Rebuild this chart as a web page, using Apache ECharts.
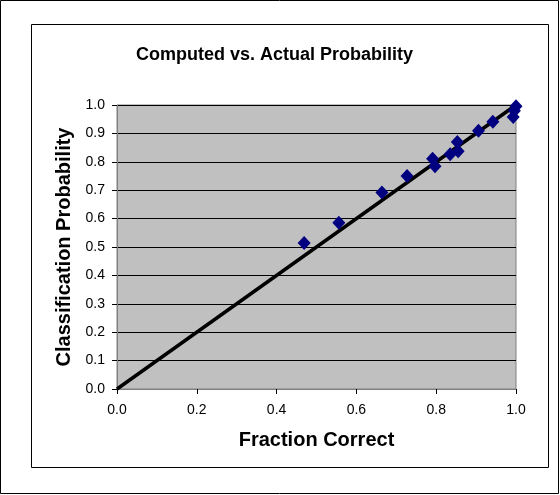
<!DOCTYPE html>
<html>
<head>
<meta charset="utf-8">
<script src="https://cdn.jsdelivr.net/npm/echarts@6/dist/echarts.min.js"></script>
<style>
html,body{margin:0;padding:0;background:#fff;}
#c{width:560px;height:495px;}
</style>
</head>
<body>
<div id="c"></div>
<script>
// Data
var fractionCorrect = [0.469, 0.556, 0.664, 0.727, 0.791, 0.797, 0.835, 0.853, 0.855, 0.906, 0.942, 0.993, 0.996, 1.0];
var classificationProb = [0.514, 0.585, 0.692, 0.750, 0.811, 0.784, 0.827, 0.870, 0.837, 0.909, 0.941, 0.958, 0.980, 0.996];
var lineX = [0, 1];
var lineY = [0, 1];

var chart = echarts.init(document.getElementById('c'), null, {renderer: 'canvas'});
var font = 'Liberation Sans, Arial, sans-serif';
var scatterData = fractionCorrect.map(function (x, i) { return [x, classificationProb[i]]; });
var lineData = lineX.map(function (x, i) { return [x, lineY[i]]; });

chart.setOption({
  animation: false,
  backgroundColor: '#fff',
  title: {
    text: 'Computed vs. Actual Probability',
    left: 131,
    top: 41,
    textStyle: {fontFamily: font, fontSize: 18, fontWeight: 'bold', color: '#000'}
  },
  graphic: [
    {type: 'rect', shape: {x: 0.5, y: 0.5, width: 558, height: 493}, style: {fill: 'none', stroke: '#000', lineWidth: 1}, silent: true},
    {type: 'rect', shape: {x: 31.5, y: 24.5, width: 517, height: 443}, style: {fill: 'none', stroke: '#000', lineWidth: 1}, silent: true}
  ],
  grid: {
    left: 117, right: 44, top: 105, bottom: 106,
    show: true, backgroundColor: '#C0C0C0', borderColor: '#808080', borderWidth: 1
  },
  xAxis: {
    type: 'value', min: 0, max: 1, interval: 0.2,
    name: 'Fraction Correct', nameLocation: 'middle', nameGap: 41,
    nameTextStyle: {fontFamily: font, fontSize: 20, fontWeight: 'bold', color: '#000'},
    axisLine: {show: true, lineStyle: {color: '#808080', width: 1}},
    axisTick: {show: true, inside: false, length: 5, lineStyle: {color: '#000'}},
    axisLabel: {fontFamily: font, fontSize: 14, color: '#000', margin: 14,
      formatter: function (v) { return v.toFixed(1); }},
    splitLine: {show: false}
  },
  yAxis: {
    type: 'value', min: 0, max: 1, interval: 0.1,
    name: 'Classification Probability', nameLocation: 'middle', nameGap: 34, nameRotate: 90,
    nameTextStyle: {fontFamily: font, fontSize: 20, fontWeight: 'bold', color: '#000'},
    axisLine: {show: true, lineStyle: {color: '#808080', width: 1}},
    axisTick: {show: true, inside: false, length: 5, lineStyle: {color: '#000'}},
    axisLabel: {fontFamily: font, fontSize: 14, color: '#000', margin: 12,
      formatter: function (v) { return v.toFixed(1); }},
    splitLine: {show: true, lineStyle: {color: '#000', width: 1}}
  },
  series: [
    {
      type: 'line', data: lineData, symbol: 'none', z: 2,
      lineStyle: {color: '#000', width: 3.5}
    },
    {
      type: 'scatter', data: scatterData, symbol: 'diamond', symbolSize: [13, 14], z: 3,
      itemStyle: {color: '#000080', opacity: 1}
    }
  ]
});
</script>
</body>
</html>
